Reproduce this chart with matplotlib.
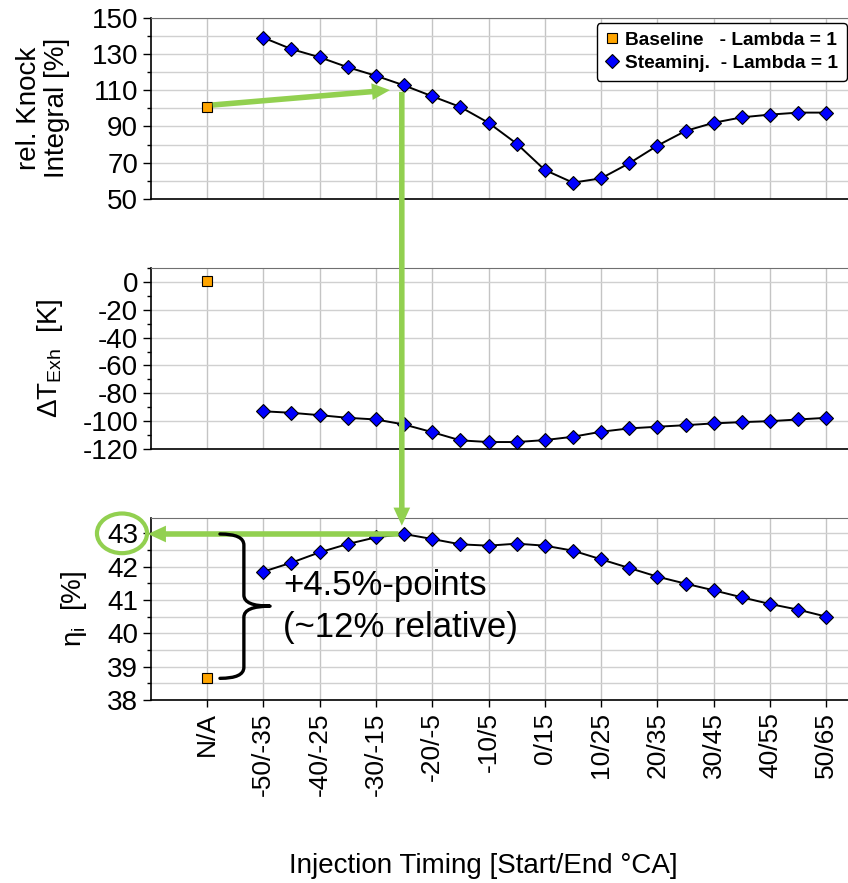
import numpy as np
import matplotlib
matplotlib.use("Agg")
import matplotlib.pyplot as plt
from matplotlib.lines import Line2D
from matplotlib.patches import FancyArrowPatch, ConnectionPatch, Ellipse, PathPatch
from matplotlib.path import Path
from matplotlib.ticker import MultipleLocator, FixedLocator

plt.rcParams['font.family'] = ['Liberation Sans', 'DejaVu Sans']
plt.rcParams['mathtext.fontset'] = 'custom'
plt.rcParams['mathtext.rm'] = 'Liberation Sans'
plt.rcParams['mathtext.it'] = 'Liberation Sans:italic'
plt.rcParams['axes.unicode_minus'] = False

# ---- data -------------------------------------------------------------
baseline_label = 'N/A'
timings = ['-50/-35', '-45/-30', '-40/-25', '-35/-20', '-30/-15', '-25/-10',
           '-20/-5', '-15/0', '-10/5', '-5/10', '0/15', '5/20', '10/25',
           '15/30', '20/35', '25/40', '30/45', '35/50', '40/55', '45/60', '50/65']

knock_base = 100.5
knock_steam = [138.9, 132.6, 128.1, 122.6, 117.9, 112.6, 106.6, 100.7, 92.0, 80.5,
               66.0, 59.0, 61.4, 69.7, 79.4, 87.5, 92.0, 95.0, 96.5, 97.6, 97.6]

texh_base = 0.5
texh_steam = [-92.9, -94.0, -95.7, -97.6, -98.8, -102.4, -107.9, -113.8, -115.0,
              -115.0, -113.6, -111.2, -107.6, -105.2, -104.0, -102.9, -101.6,
              -100.7, -100.0, -98.8, -97.6]

eta_base = 38.65
eta_steam = [41.85, 42.12, 42.43, 42.68, 42.88, 42.98, 42.83, 42.67, 42.63, 42.69,
             42.63, 42.48, 42.22, 41.96, 41.70, 41.49, 41.29, 41.08, 40.88, 40.71, 40.50]

legend_labels = ['Baseline   - Lambda = 1', 'Steaminj.  - Lambda = 1']

# ---- styling ----------------------------------------------------------
ORANGE = '#FFA500'
BLUE = '#0000FF'
GREEN = '#92D050'
GRID = '#d0d0d0'
MS_D = 7.4
MS_S = 7.6

W, H = 848, 883
fig = plt.figure(figsize=(W / 100, H / 100), dpi=100)


def px_box(l, t, r, b):
    return [l / W, 1 - b / H, (r - l) / W, (b - t) / H]


ax1 = fig.add_axes(px_box(150.7, 17.5, 848, 199))
ax2 = fig.add_axes(px_box(150.7, 268, 848, 449))
ax3 = fig.add_axes(px_box(150.7, 518, 848, 700))

# category slots: baseline, one empty slot, then the injection timings
x_base = 0
x_steam = np.arange(len(timings)) + 2
tick_pos = np.concatenate([[x_base], x_steam[::2]])
tick_lab = [baseline_label] + timings[::2]

series = [
    (ax1, knock_base, knock_steam),
    (ax2, texh_base, texh_steam),
    (ax3, eta_base, eta_steam),
]

for ax, b, s in series:
    ax.set_axisbelow(True)
    ax.plot(x_steam, s, color='black', lw=1.4, zorder=3)
    ax.plot(x_steam, s, ls='none', marker='D', ms=MS_D, mfc=BLUE, mec='black',
            mew=0.8, zorder=4)
    ax.plot([x_base], [b], ls='none', marker='s', ms=MS_S, mfc=ORANGE, mec='black',
            mew=0.8, zorder=4)
    ax.set_xlim(-2, 22.77)
    ax.xaxis.set_major_locator(FixedLocator(tick_pos))
    ax.grid(True, which='major', axis='x', color='#c4c4c4', lw=1.0)
    ax.spines['right'].set_visible(False)
    ax.spines['top'].set_color('#707070')
    ax.spines['left'].set_linewidth(1.2)
    ax.spines['bottom'].set_linewidth(1.2)
    ax.tick_params(axis='y', which='major', direction='out', length=6, width=1,
                   labelsize=20, pad=3)
    ax.tick_params(axis='y', which='minor', direction='out', length=3, width=1)

# top panel: relative knock integral
ax1.set_ylim(50, 150)
ax1.yaxis.set_major_locator(FixedLocator(np.arange(50, 151, 20)))
ax1.yaxis.set_minor_locator(MultipleLocator(10))
ax1.grid(True, which='both', axis='y', color=GRID, lw=1.0)

# middle panel: exhaust temperature difference
ax2.set_ylim(-120, 10)
ax2.yaxis.set_major_locator(MultipleLocator(20))
ax2.yaxis.set_minor_locator(MultipleLocator(10))
ax2.grid(True, which='major', axis='y', color=GRID, lw=1.0)

# bottom panel: indicated efficiency
ax3.set_ylim(38, 43.46)
ax3.yaxis.set_major_locator(MultipleLocator(1))
ax3.yaxis.set_minor_locator(MultipleLocator(0.5))
ax3.grid(True, which='both', axis='y', color=GRID, lw=1.0)

for ax in (ax1, ax2):
    ax.tick_params(axis='x', length=0, labelbottom=False)
ax3.set_xticklabels(tick_lab, rotation=90, fontsize=19)
ax3.tick_params(axis='x', direction='out', length=5, width=1, pad=4)

# legend
handles = [
    Line2D([], [], ls='none', marker='s', ms=MS_S, mfc=ORANGE, mec='black', mew=0.8),
    Line2D([], [], ls='none', marker='D', ms=MS_D, mfc=BLUE, mec='black', mew=0.8),
]
leg = ax1.legend(handles, legend_labels, loc='upper right',
                 bbox_to_anchor=(0.9986, 0.971), borderaxespad=0,
                 prop={'weight': 'bold', 'size': 13.8}, handlelength=0.7,
                 handletextpad=0.35, borderpad=0.45, labelspacing=0.3,
                 fancybox=True, framealpha=1, edgecolor='black')
leg.get_frame().set_linewidth(1.0)
leg.set_zorder(10)

# axis labels
fig.text(43 / W, 1 - 108 / H, 'rel. Knock\nIntegral [%]', rotation=90,
         ha='center', va='center', fontsize=20, linespacing=1.05,
         multialignment='center')
fig.text(50 / W, 1 - 358 / H, r'$\Delta$T$_{\mathrm{Exh}}$  [K]', rotation=90,
         ha='center', va='center', fontsize=20)
fig.text(74 / W, 1 - 609 / H, r'η$_{\mathrm{i}}$  [%]', rotation=90,
         ha='center', va='center', fontsize=20)
fig.text(483 / W, 1 - 866 / H, 'Injection Timing [Start/End °CA]',
         ha='center', va='center', fontsize=20)

# ---- annotations ------------------------------------------------------
arrow_style = 'simple,head_length=13,head_width=12,tail_width=4'
k = 5  # highlighted timing

# baseline knock -> steam injection knock
a1 = FancyArrowPatch((x_base + 0.2, knock_base + 1.3),
                     (x_steam[k] - 0.5, knock_steam[k] - 2.6),
                     arrowstyle=arrow_style, mutation_scale=1,
                     fc=GREEN, ec=GREEN, lw=0, shrinkA=0, shrinkB=0,
                     clip_on=False, zorder=5)
ax1.add_patch(a1)

# vertical link from the knock panel down to the efficiency panel
xv = x_steam[k] - 0.08
con = ConnectionPatch(xyA=(xv, knock_steam[k] - 3.6), coordsA=ax1.transData,
                      xyB=(xv, eta_steam[k] + 0.25), coordsB=ax3.transData,
                      arrowstyle=arrow_style, mutation_scale=1,
                      fc=GREEN, ec=GREEN, lw=0, shrinkA=0, shrinkB=0, zorder=5)
fig.add_artist(con)

# horizontal arrow to the efficiency axis
a2 = FancyArrowPatch((x_steam[k] - 0.2, eta_steam[k]), (-2.1, eta_steam[k]),
                     arrowstyle=arrow_style, mutation_scale=1,
                     fc=GREEN, ec=GREEN, lw=0, shrinkA=0, shrinkB=0,
                     clip_on=False, zorder=5)
ax3.add_patch(a2)

# circle around the 43 tick label
ell = Ellipse((-3.02, 43.0), width=1.78, height=1.19, fill=False, ec=GREEN,
              lw=3, clip_on=False, zorder=6)
ax3.add_patch(ell)

# curly brace spanning baseline to best steam injection efficiency
top, bot = eta_steam[k], eta_base
mid = (top + bot) / 2
xt, xs, xm = 0.46, 1.31, 2.24
r = 0.33
verts = [
    (xt, top), (xs, top), (xs, top - r),
    (xs, mid + r),
    (xs, mid), (xm, mid),
    (xs, mid), (xs, mid - r),
    (xs, bot + r),
    (xs, bot), (xt, bot),
]
codes = [Path.MOVETO, Path.CURVE3, Path.CURVE3,
         Path.LINETO,
         Path.CURVE3, Path.CURVE3,
         Path.CURVE3, Path.CURVE3,
         Path.LINETO,
         Path.CURVE3, Path.CURVE3]
brace = PathPatch(Path(verts, codes), fill=False, ec='black', lw=2.4,
                  capstyle='round', joinstyle='round', zorder=5)
ax3.add_patch(brace)

ax3.text(2.7, mid, '+4.5%-points\n(~12% relative)', fontsize=25,
         ha='left', va='center', linespacing=1.35, zorder=6)

fig.savefig('out.png', dpi=100)
